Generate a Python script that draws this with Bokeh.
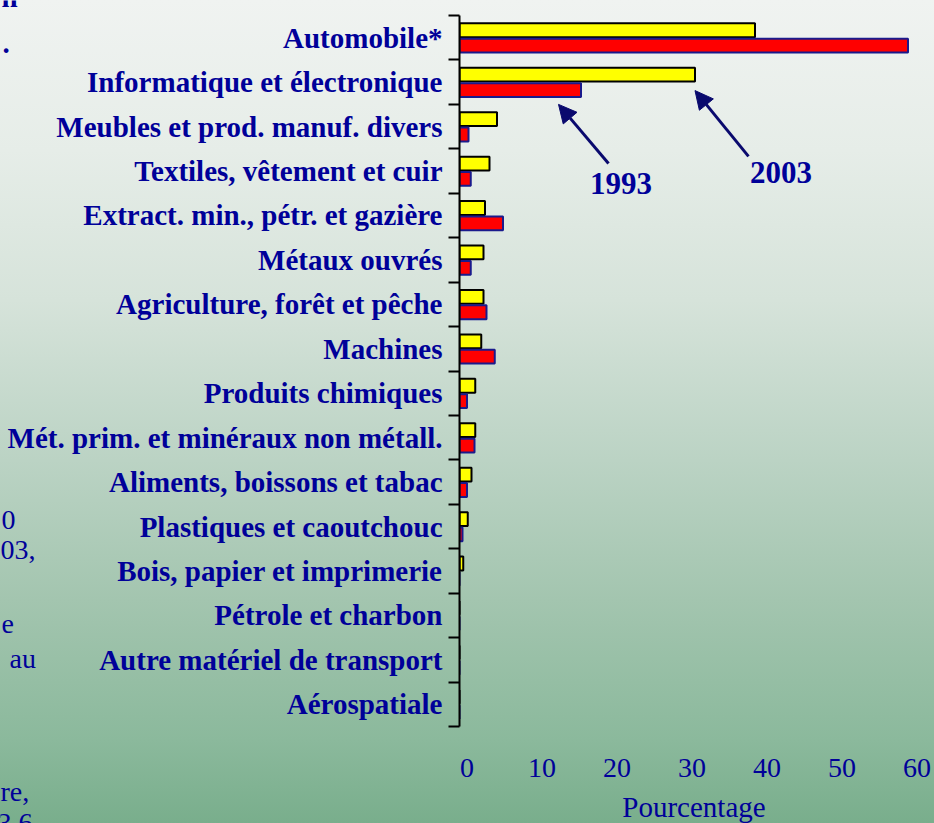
from bokeh.plotting import figure
from bokeh.models import (Range1d, LinearAxis, FixedTicker, Label, Arrow,
                          NormalHead, GlobalInlineStyleSheet)
from bokeh.core.properties import value
from bokeh.embed import file_html
from bokeh.resources import INLINE

# ---------------- data ----------------
categories = [
    "Automobile*",
    "Informatique et électronique",
    "Meubles et prod. manuf. divers",
    "Textiles, vêtement et cuir",
    "Extract. min., pétr. et gazière",
    "Métaux ouvrés",
    "Agriculture, forêt et pêche",
    "Machines",
    "Produits chimiques",
    "Mét. prim. et minéraux non métall.",
    "Aliments, boissons et tabac",
    "Plastiques et caoutchouc",
    "Bois, papier et imprimerie",
    "Pétrole et charbon",
    "Autre matériel de transport",
    "Aérospatiale",
]
share_2003 = [39.4, 31.4, 5.0, 4.0, 3.4, 3.2, 3.2, 2.9, 2.1, 2.1, 1.6, 1.1, 0.5, 0.0, 0.0, 0.0]
share_1993 = [59.8, 16.2, 1.2, 1.5, 5.8, 1.5, 3.6, 4.7, 1.0, 2.0, 1.0, 0.4, 0.0, 0.0, 0.0, 0.0]
x_ticks = [0, 10, 20, 30, 40, 50, 60]
x_title = "Pourcentage"
year_labels = ["1993", "2003"]

# cut-off fragments of the slide's left text column
frag_text = ["0", "03,", "e", "au", "re,", "3.6"]
frag_bold = ["n", "."]

# ---------------- style ----------------
BLUE = "#000099"
NAVY = "#0a0a6e"
SERIF = "Liberation Serif"

bg = GlobalInlineStyleSheet(css="""
html, body { margin: 0; padding: 0; overflow: hidden; }
html { min-height: 100%;
  background: linear-gradient(180deg, #f0f3f1 0px, #e6ede8 150px, #d6e3da 300px,
              #bbd3c4 460px, #a3c5af 600px, #8bb99c 740px, #79ae8c 823px) no-repeat;
  background-color: #79ae8c; }
""")

n = len(categories)
p = figure(width=934, height=823,
           x_range=Range1d(0, 63.33), y_range=Range1d(n - 0.5, -0.5),
           x_axis_location=None, output_backend="svg", toolbar_location=None,
           min_border_left=459, min_border_right=0, min_border_top=15,
           min_border_bottom=97)
p.stylesheets = [bg]
p.background_fill_color = None
p.border_fill_color = None
p.outline_line_color = None
p.xgrid.visible = False
p.ygrid.visible = False

idx = list(range(n))
p.hbar(y=[i - 0.168 for i in idx], left=0, right=share_2003, height=0.31,
       fill_color="#ffff00", line_color="black", line_width=2)
p.hbar(y=[i + 0.178 for i in idx], left=0, right=share_1993, height=0.31,
       fill_color="#ff0000", line_color="#1a1a8c", line_width=2)

# y axis: labels at category centres, ticks at category boundaries
ya = p.yaxis[0]
ya.ticker = FixedTicker(ticks=idx, minor_ticks=[i - 0.5 for i in range(n + 1)])
ya.major_label_overrides = {i: c for i, c in enumerate(categories)}
ya.major_tick_line_color = None
ya.major_tick_out = 0
ya.major_tick_in = 0
ya.minor_tick_out = 11
ya.minor_tick_in = 0
ya.minor_tick_line_width = 2
ya.minor_tick_line_color = "black"
ya.axis_line_width = 2
ya.axis_line_color = "black"
ya.major_label_text_font = SERIF
ya.major_label_text_font_style = "bold"
ya.major_label_text_font_size = "29px"
ya.major_label_text_color = BLUE
ya.major_label_standoff = 6

# x axis: labels only (slightly shifted like in the original)
p.extra_x_ranges = {"lab": Range1d(-1.0, 62.33)}
xa = LinearAxis(x_range_name="lab", ticker=FixedTicker(ticks=x_ticks),
                axis_line_color=None, major_tick_line_color=None,
                minor_tick_line_color=None, major_tick_out=0, major_tick_in=0,
                major_label_text_font=SERIF, major_label_text_font_size="28px",
                major_label_text_color=BLUE, major_label_standoff=32)
p.add_layout(xa, "below")

# year annotations with arrows
p.add_layout(Label(x=21.53, y=3.29, text=year_labels[0], text_font=SERIF,
                   text_font_style="bold", text_font_size="31px", text_color=BLUE,
                   text_align="center", text_baseline="middle"))
p.add_layout(Label(x=42.87, y=3.04, text=year_labels[1], text_font=SERIF,
                   text_font_style="bold", text_font_size="31px", text_color=BLUE,
                   text_align="center", text_baseline="middle"))
p.add_layout(Arrow(end=NormalHead(size=18, fill_color=NAVY, line_color=NAVY),
                   x_start=19.87, y_start=2.83, x_end=share_1993[1] - 3.0, y_end=1.5,
                   line_color=NAVY, line_width=3))
p.add_layout(Arrow(end=NormalHead(size=18, fill_color=NAVY, line_color=NAVY),
                   x_start=38.53, y_start=2.67, x_end=share_2003[1], y_end=1.19,
                   line_color=NAVY, line_width=3))

# transparent full-page overlay (page pixel coordinates) for the texts that
# lie outside the plot frame: axis title and the clipped left-column text
q = figure(width=934, height=823, x_range=Range1d(0, 934), y_range=Range1d(823, 0),
           output_backend="svg", toolbar_location=None, min_border=0,
           x_axis_location=None, y_axis_location=None)
q.background_fill_color = None
q.border_fill_color = None
q.outline_line_color = None
q.xgrid.visible = False
q.ygrid.visible = False
q.styles = {"position": "absolute", "left": "0px", "top": "0px"}
q.text(x=[693.5], y=[806], text=[x_title], text_font=value(SERIF),
       text_font_size="29px", text_color=BLUE, text_align="center",
       text_baseline="middle")
q.text(x=[1, 0, 1, 9, 0, -3], y=[519.5, 549.5, 623.5, 657.5, 790.5, 822.5],
       text=frag_text, text_font=value(SERIF), text_font_size="28px",
       text_color=BLUE, text_align="left", text_baseline="middle")
q.text(x=[1, 2], y=[-4, 43], text=frag_bold, text_font=value(SERIF),
       text_font_style="bold", text_font_size="29px",
       text_color=BLUE, text_align="left", text_baseline="middle")

open("out.html", "w").write(file_html([p, q], INLINE))
